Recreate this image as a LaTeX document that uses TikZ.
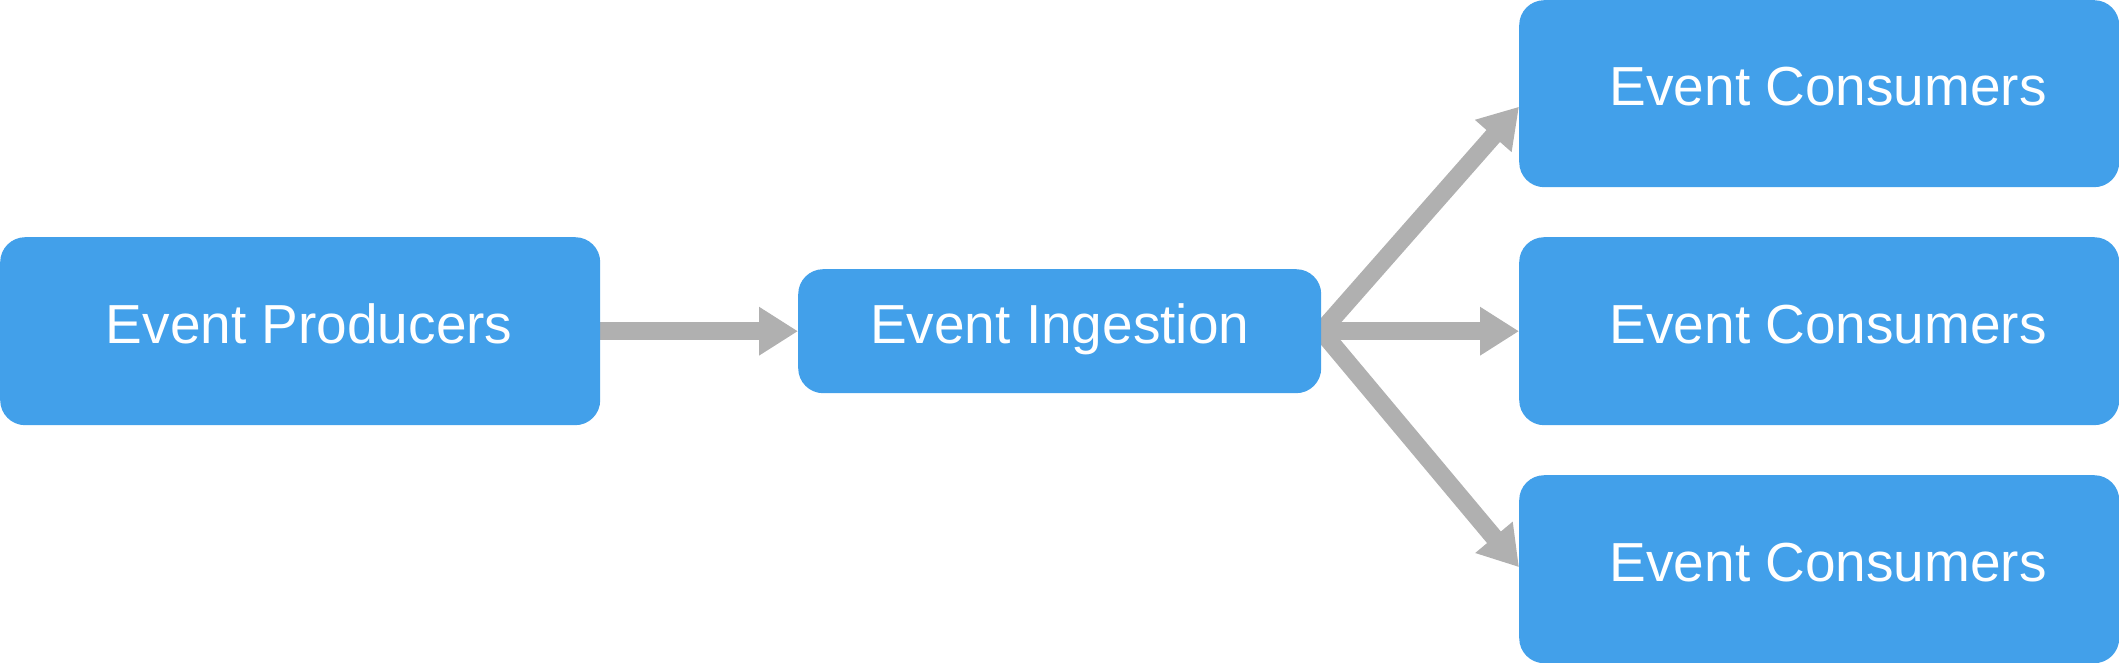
\documentclass[tikz,border=0pt]{standalone}
\usepackage{fontspec}
\setmainfont{Liberation Sans}
\usetikzlibrary{arrows.meta,backgrounds}
\definecolor{boxblue}{RGB}{66,160,234}
\definecolor{arrowgrey}{RGB}{176,176,176}
\tikzset{
  evbox/.style={fill=boxblue, draw=none, rounded corners=25pt, inner sep=0pt,
    text=white, font=\fontsize{55pt}{60pt}\selectfont,
    text height=40pt, text depth=16pt, anchor=north west},
  flow/.style={draw=arrowgrey, line width=18pt,
    -{Triangle[length=39pt,width=46pt]}}
}
\begin{document}
\begin{tikzpicture}[x=1pt,y=-1pt]
\useasboundingbox (0,0) rectangle (2119,663);
\node[evbox, minimum width=600pt, minimum height=188pt] (prod) at (0,237) {\hspace*{18pt}Event Producers};
\node[evbox, minimum width=523pt, minimum height=124pt] (ing) at (798,269) {Event Ingestion};
\node[evbox, minimum width=600pt, minimum height=187pt] (c1) at (1519,0) {\hspace*{18pt}Event Consumers};
\node[evbox, minimum width=600pt, minimum height=188pt] (c2) at (1519,237) {\hspace*{18pt}Event Consumers};
\node[evbox, minimum width=600pt, minimum height=188pt] (c3) at (1519,475) {\hspace*{18pt}Event Consumers};
\begin{scope}[on background layer]
\draw[flow] (prod.east) -- (ing.west);
\draw[flow] (ing.east) -- (c2.west);
\draw[flow] (ing.east) -- ([yshift=-13pt]c1.west);
\draw[flow] (ing.east) -- ([yshift=2pt]c3.west);
\end{scope}
\end{tikzpicture}
\end{document}
